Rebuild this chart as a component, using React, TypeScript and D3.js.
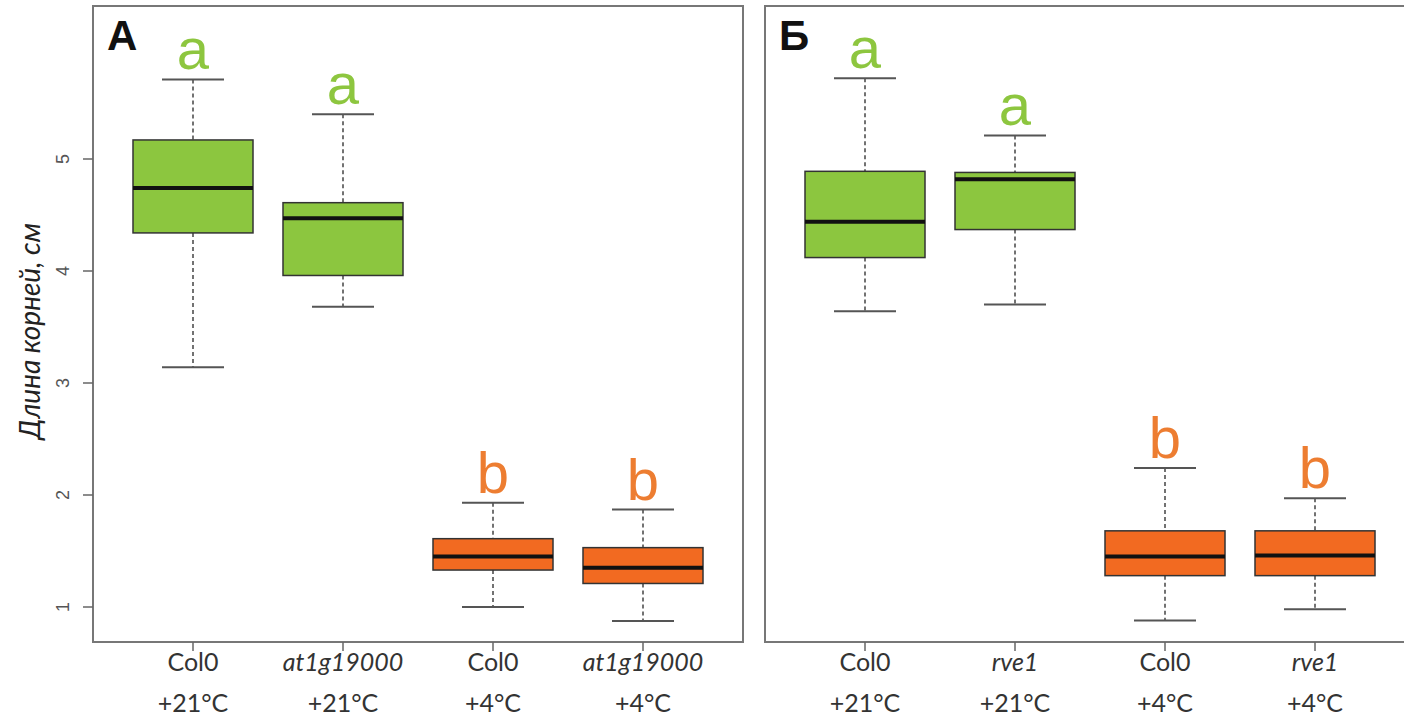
import React from 'react'
import * as d3 from 'd3'

// groups (same order in both panels)
const genotypesA = ['Col0', 'at1g19000', 'Col0', 'at1g19000']
const genotypesB = ['Col0', 'rve1', 'Col0', 'rve1']
const temps = ['+21°C', '+21°C', '+4°C', '+4°C']
const letters = ['a', 'a', 'b', 'b']

// boxplot stats, panel A
const lowA = [3.14, 3.68, 1.0, 0.875]
const q1A = [4.34, 3.96, 1.33, 1.21]
const medA = [4.74, 4.47, 1.45, 1.35]
const q3A = [5.17, 4.61, 1.61, 1.53]
const highA = [5.71, 5.4, 1.93, 1.87]

// panel B
const lowB = [3.64, 3.7, 0.88, 0.98]
const q1B = [4.12, 4.37, 1.28, 1.28]
const medB = [4.44, 4.82, 1.45, 1.46]
const q3B = [4.89, 4.88, 1.68, 1.68]
const highB = [5.72, 5.21, 2.24, 1.97]

const yTicks = [1, 2, 3, 4, 5]

const W = 1404
const H = 718
const top = 6
const bottom = 642
const panelW = 650
const boxW = 120
const capW = 62

const y = d3.scaleLinear().domain([1, 5]).range([607, 159])

const fills = ['#8cc63f', '#8cc63f', '#f26a21', '#f26a21']
const letterColors = ['#8dc63f', '#8dc63f', '#ed7d31', '#ed7d31']

type PanelProps = {
  left: number
  title: string
  genotypes: string[]
  low: number[]
  q1: number[]
  med: number[]
  q3: number[]
  high: number[]
}

const Panel = ({ left, title, genotypes, low, q1, med, q3, high }: PanelProps) => {
  const idx = d3.range(genotypes.length)
  const x = d3
    .scalePoint<number>()
    .domain(idx)
    .range([left + 100, left + 550])
  return (
    <g>
      <rect x={left} y={top} width={panelW} height={bottom - top} fill="none" stroke="#777" strokeWidth={2} />
      <text x={left + 14} y={50} fontFamily="Liberation Sans, Arial, sans-serif" fontWeight="bold" fontSize={42} fill="#111">
        {title}
      </text>
      {idx.map((i) => {
        const cx = x(i) as number
        return (
          <g key={i}>
            {/* whiskers */}
            <line x1={cx} x2={cx} y1={y(high[i])} y2={y(q3[i])} stroke="#444" strokeWidth={1.5} strokeDasharray="4,3" />
            <line x1={cx} x2={cx} y1={y(q1[i])} y2={y(low[i])} stroke="#444" strokeWidth={1.5} strokeDasharray="4,3" />
            <line x1={cx - capW / 2} x2={cx + capW / 2} y1={y(high[i])} y2={y(high[i])} stroke="#555" strokeWidth={2} />
            <line x1={cx - capW / 2} x2={cx + capW / 2} y1={y(low[i])} y2={y(low[i])} stroke="#555" strokeWidth={2} />
            {/* box */}
            <rect
              x={cx - boxW / 2}
              y={y(q3[i])}
              width={boxW}
              height={y(q1[i]) - y(q3[i])}
              fill={fills[i]}
              stroke="#333"
              strokeWidth={1.5}
            />
            <line x1={cx - boxW / 2} x2={cx + boxW / 2} y1={y(med[i])} y2={y(med[i])} stroke="#111" strokeWidth={4} />
            {/* significance letter */}
            <text
              x={cx}
              y={y(high[i]) - 10}
              textAnchor="middle"
              fontFamily="Liberation Sans, Arial, sans-serif"
              fontSize={58}
              fill={letterColors[i]}
            >
              {letters[i]}
            </text>
            {/* x tick + labels */}
            <line x1={cx} x2={cx} y1={bottom} y2={bottom + 9} stroke="#666" strokeWidth={1.5} />
            <text
              x={cx}
              y={671}
              textAnchor="middle"
              fontFamily="Lato, sans-serif"
              fontSize={25}
              fontStyle={genotypes[i] === 'Col0' ? 'normal' : 'italic'}
              fill="#333"
            >
              {genotypes[i]}
            </text>
            <text x={cx} y={712} textAnchor="middle" fontFamily="Lato, sans-serif" fontSize={25} fill="#333">
              {temps[i]}
            </text>
          </g>
        )
      })}
    </g>
  )
}

const App = () => {
  const axisX = 93
  return (
    <div style={{ position: 'absolute', left: 0, top: 0 }}>
      <svg width={W} height={H} style={{ display: 'block', background: '#fff' }}>
        <Panel left={axisX} title="А" genotypes={genotypesA} low={lowA} q1={q1A} med={medA} q3={q3A} high={highA} />
        <Panel left={765} title="Б" genotypes={genotypesB} low={lowB} q1={q1B} med={medB} q3={q3B} high={highB} />
        {/* y axis ticks for panel A */}
        {yTicks.map((t) => (
          <g key={t}>
            <line x1={axisX - 10} x2={axisX} y1={y(t)} y2={y(t)} stroke="#666" strokeWidth={1.5} />
            <text
              transform={`translate(${63},${y(t)}) rotate(-90)`}
              textAnchor="middle"
              dy="0.35em"
              fontFamily="Liberation Sans, Arial, sans-serif"
              fontSize={18}
              fill="#555"
            >
              {t}
            </text>
          </g>
        ))}
        <text
          transform={`translate(30,331) rotate(-90)`}
          textAnchor="middle"
          dy="0.35em"
          fontFamily="Lato, sans-serif"
          fontStyle="italic"
          fontSize={28}
          fill="#222"
        >
          Длина корней, см
        </text>
      </svg>
    </div>
  )
}

export default App
